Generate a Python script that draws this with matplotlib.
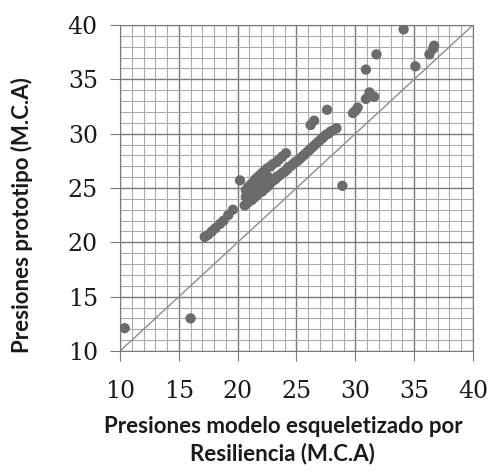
import matplotlib
matplotlib.use("Agg")
import matplotlib.pyplot as plt
from matplotlib.ticker import MultipleLocator

# Presiones modelo esqueletizado (x) vs presiones prototipo (y), M.C.A
x_vals = [
    10.4, 16.0, 28.9, 20.2,
    17.2, 17.5, 17.8, 18.1, 18.5, 18.8, 19.2, 19.6,
    20.6, 20.8, 21.0, 21.1, 21.2, 21.3, 21.4, 21.5, 21.6, 21.7,
    21.8, 21.9, 22.0, 22.1, 22.2, 22.3, 22.4, 22.5, 22.6, 22.7,
    22.8, 22.9, 23.0, 23.2, 23.3, 23.5, 23.6, 23.8, 24.0, 24.2,
    24.3, 24.5, 24.7, 24.9, 25.1, 25.3, 25.5, 25.7, 25.9, 26.1,
    26.3, 26.5, 26.7, 26.9, 27.1, 27.3, 27.5, 27.7, 27.9, 28.1, 28.4,
    20.7, 20.9, 21.1, 21.3, 21.0, 21.5, 21.7, 21.9, 22.1, 22.3,
    22.5, 22.8, 23.0, 23.3, 23.5, 23.8, 24.1,
    21.2, 21.4, 21.6, 22.0, 22.2, 22.4, 22.6, 20.7, 21.0,
    26.2, 26.5, 27.6, 29.8, 30.0, 30.2, 30.9, 31.2, 31.6,
    30.9, 31.8, 34.1, 35.1, 36.3, 36.6, 36.7,
]
y_vals = [
    12.1, 13.0, 25.2, 25.7,
    20.5, 20.7, 21.0, 21.3, 21.7, 22.0, 22.5, 23.0,
    23.4, 23.6, 23.8, 24.2, 23.9, 24.4, 24.1, 24.6, 24.3, 24.5,
    24.8, 24.6, 24.9, 24.7, 25.0, 25.1, 25.0, 25.3, 25.2, 25.4,
    25.5, 25.6, 25.7, 25.8, 26.0, 26.1, 26.2, 26.4, 26.5, 26.7,
    26.9, 27.0, 27.2, 27.4, 27.5, 27.7, 27.9, 28.1, 28.3, 28.5,
    28.7, 28.9, 29.1, 29.3, 29.5, 29.7, 29.9, 30.0, 30.2, 30.3, 30.5,
    24.8, 25.1, 25.3, 25.5, 24.6, 25.8, 26.0, 26.2, 26.4, 26.6,
    26.8, 27.0, 27.2, 27.4, 27.6, 27.9, 28.2,
    24.9, 25.0, 25.2, 25.6, 25.5, 25.9, 26.0, 24.2, 24.4,
    30.8, 31.2, 32.2, 31.9, 32.1, 32.4, 33.2, 33.8, 33.4,
    35.9, 37.3, 39.6, 36.2, 37.3, 37.8, 38.1,
]
ref_line = [10, 40]
tick_vals = [10, 15, 20, 25, 30, 35, 40]

fig = plt.figure(figsize=(4.91, 4.73), dpi=100)
ax = fig.add_axes([0.2444, 0.2579, 0.7189, 0.6892])

ax.set_xlim(10, 40)
ax.set_ylim(10, 40)
ax.set_xticks(tick_vals)
ax.set_yticks(tick_vals)
ax.xaxis.set_minor_locator(MultipleLocator(1))
ax.yaxis.set_minor_locator(MultipleLocator(1))
ax.grid(which="major", color="#7a7a7a", linewidth=1.0)
ax.grid(which="minor", color="#aaaaaa", linewidth=0.8)
ax.set_axisbelow(True)

ax.plot(ref_line, ref_line, color="#8c8c8c", linewidth=1.0, zorder=2)
ax.scatter(x_vals, y_vals, s=55, color="#6b6b6b", edgecolors="none", zorder=3)

for side in ["left", "bottom", "top", "right"]:
    ax.spines[side].set_color("#7a7a7a")
ax.tick_params(which="major", direction="out", length=7, color="#7a7a7a",
               labelsize=17)
ax.tick_params(axis="y", pad=9)
ax.tick_params(axis="x", pad=14)
ax.tick_params(which="minor", length=0)
for lbl in ax.get_xticklabels() + ax.get_yticklabels():
    lbl.set_fontfamily("DejaVu Serif")
    lbl.set_color("#1a1a1a")

fig.text(0.576, 0.070, "Presiones modelo esqueletizado por\nResiliencia (M.C.A)",
         ha="center", va="center", fontsize=16, fontweight="bold",
         fontfamily="Lato", linespacing=1.3, color="#1a1a1a")
fig.text(0.045, 0.5455, "Presiones prototipo (M.C.A)", rotation=90,
         ha="center", va="center", fontsize=16, fontweight="bold",
         fontfamily="Lato", color="#1a1a1a")

fig.savefig("out.png", dpi=100)
